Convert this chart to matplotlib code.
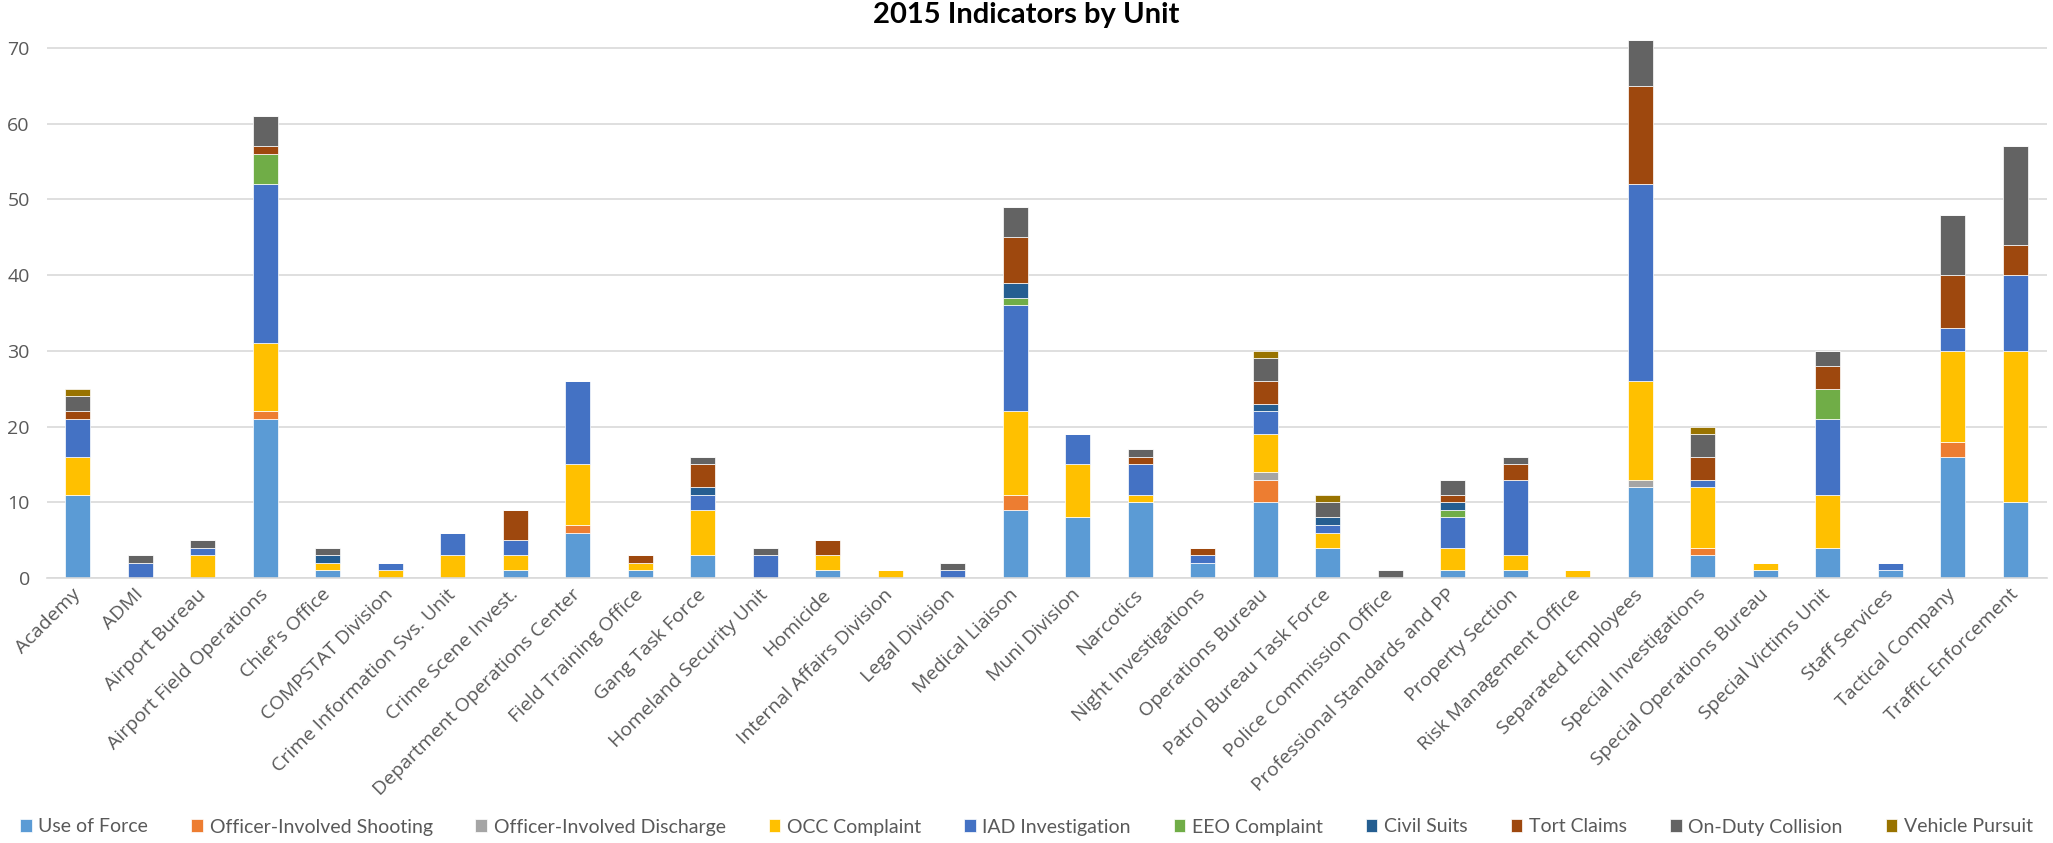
import numpy as np
import matplotlib
matplotlib.use("Agg")
import matplotlib.pyplot as plt
from matplotlib import font_manager

units = ["Academy", "ADMI", "Airport Bureau", "Airport Field Operations", "Chief's Office",
         "COMPSTAT Division", "Crime Information Svs. Unit", "Crime Scene Invest.",
         "Department Operations Center", "Field Training Office", "Gang Task Force",
         "Homeland Security Unit", "Homicide", "Internal Affairs Division", "Legal Division",
         "Medical Liaison", "Muni Division", "Narcotics", "Night Investigations",
         "Operations Bureau", "Patrol Bureau Task Force", "Police Commission Office",
         "Professional Standards and PP", "Property Section", "Risk Management Office",
         "Separated Employees", "Special Investigations", "Special Operations Bureau",
         "Special Victims Unit", "Staff Services", "Tactical Company", "Traffic Enforcement"]

use_of_force = [11, 0, 0, 21, 1, 0, 0, 1, 6, 1, 3, 0, 1, 0, 0, 9, 8, 10, 2, 10, 4, 0, 1, 1, 0, 12, 3, 1, 4, 1, 16, 10]
officer_shooting = [0, 0, 0, 1, 0, 0, 0, 0, 1, 0, 0, 0, 0, 0, 0, 2, 0, 0, 0, 3, 0, 0, 0, 0, 0, 0, 1, 0, 0, 0, 2, 0]
officer_discharge = [0, 0, 0, 0, 0, 0, 0, 0, 0, 0, 0, 0, 0, 0, 0, 0, 0, 0, 0, 1, 0, 0, 0, 0, 0, 1, 0, 0, 0, 0, 0, 0]
occ_complaint = [5, 0, 3, 9, 1, 1, 3, 2, 8, 1, 6, 0, 2, 1, 0, 11, 7, 1, 0, 5, 2, 0, 3, 2, 1, 13, 8, 1, 7, 0, 12, 20]
iad_investigation = [5, 2, 1, 21, 0, 1, 3, 2, 11, 0, 2, 3, 0, 0, 1, 14, 4, 4, 1, 3, 1, 0, 4, 10, 0, 26, 1, 0, 10, 1, 3, 10]
eeo_complaint = [0, 0, 0, 4, 0, 0, 0, 0, 0, 0, 0, 0, 0, 0, 0, 1, 0, 0, 0, 0, 0, 0, 1, 0, 0, 0, 0, 0, 4, 0, 0, 0]
civil_suits = [0, 0, 0, 0, 1, 0, 0, 0, 0, 0, 1, 0, 0, 0, 0, 2, 0, 0, 0, 1, 1, 0, 1, 0, 0, 0, 0, 0, 0, 0, 0, 0]
tort_claims = [1, 0, 0, 1, 0, 0, 0, 4, 0, 1, 3, 0, 2, 0, 0, 6, 0, 1, 1, 3, 0, 0, 1, 2, 0, 13, 3, 0, 3, 0, 7, 4]
collision = [2, 1, 1, 4, 1, 0, 0, 0, 0, 0, 1, 1, 0, 0, 1, 4, 0, 1, 0, 3, 2, 1, 2, 1, 0, 6, 3, 0, 2, 0, 8, 13]
vehicle_pursuit = [1, 0, 0, 0, 0, 0, 0, 0, 0, 0, 0, 0, 0, 0, 0, 0, 0, 0, 0, 1, 1, 0, 0, 0, 0, 0, 1, 0, 0, 0, 0, 0]

series_names = ["Use of Force", "Officer-Involved Shooting", "Officer-Involved Discharge",
                "OCC Complaint", "IAD Investigation", "EEO Complaint", "Civil Suits",
                "Tort Claims", "On-Duty Collision", "Vehicle Pursuit"]
series = [use_of_force, officer_shooting, officer_discharge, occ_complaint, iad_investigation,
          eeo_complaint, civil_suits, tort_claims, collision, vehicle_pursuit]
colors = ["#5B9BD5", "#ED7D31", "#A5A5A5", "#FFC000", "#4472C4",
          "#70AD47", "#255E91", "#9E480E", "#636363", "#997300"]

installed = {f.name for f in font_manager.fontManager.ttflist}
def pick(*names):
    for n in names:
        if n in installed:
            return n
    return "DejaVu Sans"

tick_font = pick("Open Sans", "Noto Sans", "DejaVu Sans")
legend_font = pick("Liberation Sans Narrow", "Lato", "DejaVu Sans")
title_font = pick("Lato", "Open Sans", "DejaVu Sans")

fig = plt.figure(figsize=(20.53, 8.43), dpi=100)
ax = fig.add_axes([0.02265, 0.3144, 0.9742, 0.6377])

x = np.arange(len(units))
bottom = np.zeros(len(units))
handles = []
for name, vals, col in zip(series_names, series, colors):
    vals = np.array(vals, dtype=float)
    b = ax.bar(x, vals, width=0.395, bottom=bottom, color=col, label=name,
               edgecolor="white", linewidth=0.5)
    handles.append(b)
    bottom += vals

ax.set_xlim(-0.5, len(units) - 0.5)
ax.set_ylim(0, 71)
ax.set_yticks(np.arange(0, 71, 10))
ax.yaxis.grid(True, color="#D9D9D9", linewidth=1.2)
ax.set_axisbelow(True)
for s in ["top", "right", "left"]:
    ax.spines[s].set_visible(False)
ax.spines["bottom"].set_color("#D9D9D9")
ax.spines["bottom"].set_linewidth(1.2)
ax.tick_params(axis="both", length=0, colors="#595959")
ax.tick_params(axis="y", pad=12)
ax.tick_params(axis="x", pad=10)

ax.set_xticks(x)
ax.set_xticklabels(units, rotation=45, ha="right", va="center", rotation_mode="anchor",
                   fontsize=14, family=tick_font, color="#595959")
for lab in ax.get_yticklabels():
    lab.set_fontsize(14)
    lab.set_family(tick_font)
    lab.set_color("#595959")

fig.text(0.5, 1 - 15 / 843, "2015 Indicators by Unit", ha="center", va="center",
         fontsize=21, fontweight="bold", family=title_font, color="#000000")

leg = fig.legend(handles=handles, labels=series_names, loc="center",
                 bbox_to_anchor=(0.5, 1 - 827 / 843), ncol=10, frameon=False,
                 prop={"family": legend_font, "size": 14},
                 handlelength=0.6, handleheight=0.6, handletextpad=0.35,
                 columnspacing=2.2)
for t in leg.get_texts():
    t.set_color("#595959")

fig.savefig("out.png", dpi=100)
